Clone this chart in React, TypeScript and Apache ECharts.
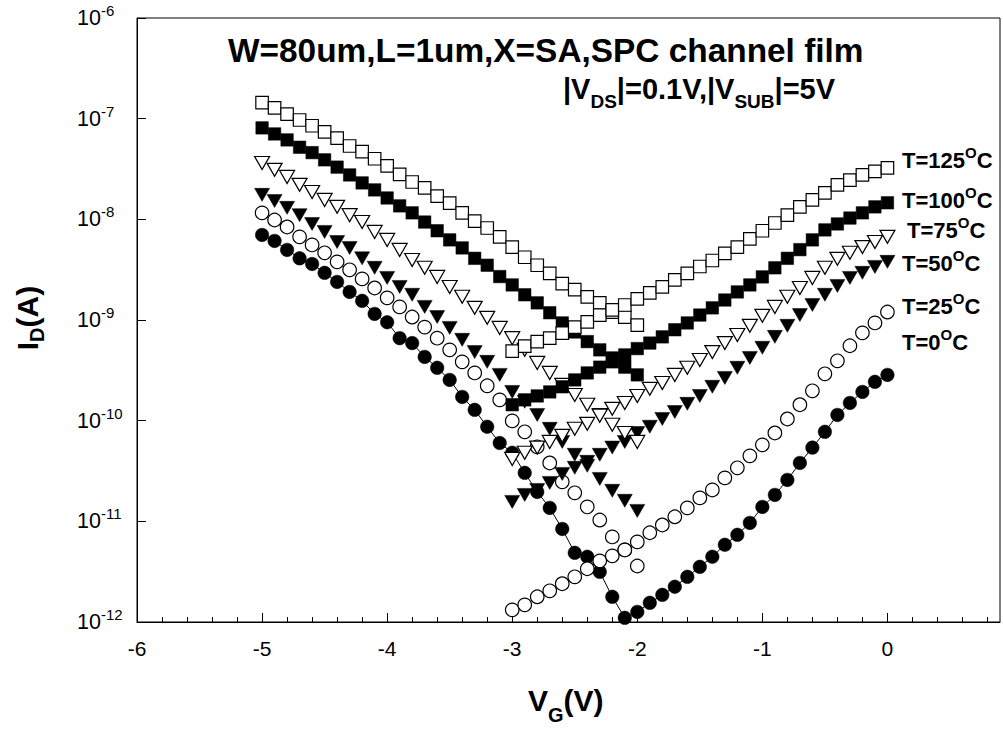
import React, { useEffect, useRef } from 'react';
import * as echarts from 'echarts';

// Gate voltage sweeps (V)
const VG_DOWN = [-5.0, -4.9, -4.8, -4.7, -4.6, -4.5, -4.4, -4.3, -4.2, -4.1, -4.0, -3.9, -3.8, -3.7, -3.6, -3.5, -3.4, -3.3, -3.2, -3.1, -3.0, -2.9, -2.8, -2.7, -2.6, -2.5, -2.4, -2.3, -2.2, -2.1, -2.0];
const VG_UP = [-3.0, -2.9, -2.8, -2.7, -2.6, -2.5, -2.4, -2.3, -2.2, -2.1, -2.0, -1.9, -1.8, -1.7, -1.6, -1.5, -1.4, -1.3, -1.2, -1.1, -1.0, -0.9, -0.8, -0.7, -0.6, -0.5, -0.4, -0.3, -0.2, -0.1, 0.0];
const VG_FULL = [-5.0, -4.9, -4.8, -4.7, -4.6, -4.5, -4.4, -4.3, -4.2, -4.1, -4.0, -3.9, -3.8, -3.7, -3.6, -3.5, -3.4, -3.3, -3.2, -3.1, -3.0, -2.9, -2.8, -2.7, -2.6, -2.5, -2.4, -2.3, -2.2, -2.1, -2.0, -1.9, -1.8, -1.7, -1.6, -1.5, -1.4, -1.3, -1.2, -1.1, -1.0, -0.9, -0.8, -0.7, -0.6, -0.5, -0.4, -0.3, -0.2, -0.1, 0.0];

// Drain current I_D (A)
const T125_DOWN = [1.44e-7, 1.28e-7, 1.11e-7, 9.7e-8, 8.5e-8, 7.4e-8, 6.4e-8, 5.35e-8, 4.7e-8, 4.0e-8, 3.4e-8, 2.8e-8, 2.35e-8, 2.05e-8, 1.7e-8, 1.45e-8, 1.16e-8, 9.6e-9, 8.2e-9, 6.7e-9, 5.3e-9, 4.2e-9, 3.5e-9, 2.9e-9, 2.3e-9, 2.0e-9, 1.7e-9, 1.48e-9, 1.2e-9, 1.07e-9, 8.9e-10];
const T125_UP = [4.9e-10, 5.5e-10, 6.1e-10, 6.6e-10, 7.4e-10, 8.5e-10, 9.6e-10, 1.12e-9, 1.26e-9, 1.41e-9, 1.62e-9, 1.86e-9, 2.13e-9, 2.5e-9, 2.9e-9, 3.4e-9, 3.9e-9, 4.6e-9, 5.3e-9, 6.4e-9, 7.7e-9, 9.2e-9, 1.1e-8, 1.33e-8, 1.56e-8, 1.83e-8, 2.2e-8, 2.45e-8, 2.76e-8, 3.0e-8, 3.24e-8];
const T100_DOWN = [8.1e-8, 7.05e-8, 6.15e-8, 5.2e-8, 4.6e-8, 3.9e-8, 3.3e-8, 2.76e-8, 2.3e-8, 1.96e-8, 1.63e-8, 1.36e-8, 1.16e-8, 9.4e-9, 7.7e-9, 6.25e-9, 5.2e-9, 4.1e-9, 3.5e-9, 2.7e-9, 2.23e-9, 1.78e-9, 1.48e-9, 1.18e-9, 9.35e-10, 7.6e-10, 6.1e-10, 5.05e-10, 4.2e-10, 3.4e-10, 2.85e-10];
const T100_UP = [1.44e-10, 1.61e-10, 1.76e-10, 1.93e-10, 2.17e-10, 2.54e-10, 2.98e-10, 3.4e-10, 3.84e-10, 4.5e-10, 5.2e-10, 5.9e-10, 6.8e-10, 8.0e-10, 9.35e-10, 1.12e-9, 1.32e-9, 1.58e-9, 1.9e-9, 2.23e-9, 2.68e-9, 3.3e-9, 4.1e-9, 5.0e-9, 6.25e-9, 7.85e-9, 9.0e-9, 1.03e-8, 1.16e-8, 1.33e-8, 1.46e-8];
const T75_DOWN = [3.63e-8, 3.1e-8, 2.64e-8, 2.2e-8, 1.87e-8, 1.56e-8, 1.33e-8, 1.1e-8, 9.4e-9, 7.5e-9, 6.25e-9, 4.97e-9, 3.95e-9, 3.3e-9, 2.68e-9, 2.13e-9, 1.7e-9, 1.32e-9, 1.05e-9, 8.35e-10, 6.6e-10, 5.05e-10, 3.75e-10, 2.98e-10, 2.27e-10, 1.8e-10, 1.44e-10, 1.14e-10, 9.1e-11, 7.55e-11, 6.15e-11];
const T75_UP = [4.17e-11, 4.8e-11, 5.4e-11, 6.15e-11, 7.07e-11, 8.3e-11, 9.3e-11, 1.12e-10, 1.31e-10, 1.5e-10, 1.76e-10, 2.07e-10, 2.37e-10, 2.85e-10, 3.35e-10, 4.0e-10, 4.8e-10, 5.9e-10, 7.1e-10, 8.75e-10, 1.1e-9, 1.35e-9, 1.7e-9, 2.08e-9, 2.62e-9, 3.3e-9, 4.05e-9, 4.65e-9, 5.3e-9, 5.95e-9, 6.7e-9];
const T50_DOWN = [1.75e-8, 1.52e-8, 1.3e-8, 1.1e-8, 9.0e-9, 7.5e-9, 5.95e-9, 5.2e-9, 4.1e-9, 3.3e-9, 2.62e-9, 2.13e-9, 1.78e-9, 1.35e-9, 1.07e-9, 8.35e-10, 6.35e-10, 4.8e-10, 3.84e-10, 2.85e-10, 1.93e-10, 1.54e-10, 1.14e-10, 8.3e-11, 6.15e-11, 4.58e-11, 3.56e-11, 2.64e-11, 2.01e-11, 1.6e-11, 1.27e-11];
const T50_UP = [1.56e-11, 1.83e-11, 2.05e-11, 2.41e-11, 2.96e-11, 3.4e-11, 3.9e-11, 4.58e-11, 5.4e-11, 6.15e-11, 7.55e-11, 8.7e-11, 1.04e-10, 1.22e-10, 1.47e-10, 1.76e-10, 2.17e-10, 2.66e-10, 3.35e-10, 4.2e-10, 5.3e-10, 6.8e-10, 8.75e-10, 1.12e-9, 1.41e-9, 1.78e-9, 2.18e-9, 2.62e-9, 2.94e-9, 3.37e-9, 3.78e-9];
const T25_DOWN = [1.16e-8, 9.85e-9, 8.4e-9, 6.7e-9, 5.57e-9, 4.65e-9, 3.78e-9, 3.15e-9, 2.56e-9, 2.08e-9, 1.66e-9, 1.35e-9, 1.07e-9, 8.5e-10, 6.6e-10, 5.05e-10, 3.84e-10, 2.98e-10, 2.22e-10, 1.61e-10, 9.95e-11, 7.75e-11, 5.5e-11, 3.8e-11, 2.47e-11, 1.92e-11, 1.39e-11, 1.03e-11, 7.0e-12, 5.2e-12, 3.6e-12];
const T25_UP = [1.32e-12, 1.48e-12, 1.78e-12, 2.04e-12, 2.4e-12, 2.81e-12, 3.38e-12, 4.05e-12, 4.54e-12, 5.2e-12, 6.25e-12, 7.7e-12, 9.2e-12, 1.11e-11, 1.36e-11, 1.71e-11, 2.05e-11, 2.7e-11, 3.4e-11, 4.47e-11, 5.75e-11, 7.55e-11, 1.04e-10, 1.44e-10, 1.98e-10, 2.92e-10, 3.93e-10, 5.55e-10, 7.45e-10, 9.35e-10, 1.2e-9];
const T0_FULL = [7.0e-9, 6.1e-9, 4.97e-9, 4.1e-9, 3.6e-9, 2.94e-9, 2.39e-9, 1.9e-9, 1.55e-9, 1.15e-9, 9.5e-10, 6.6e-10, 5.9e-10, 4.3e-10, 3.35e-10, 2.54e-10, 1.72e-10, 1.28e-10, 8.7e-11, 6.0e-11, 4.8e-11, 3.03e-11, 1.96e-11, 1.36e-11, 8.4e-12, 4.87e-12, 4.45e-12, 3.15e-12, 1.78e-12, 1.1e-12, 1.26e-12, 1.55e-12, 1.86e-12, 2.24e-12, 2.81e-12, 3.53e-12, 4.45e-12, 5.85e-12, 7.35e-12, 9.65e-12, 1.39e-11, 1.83e-11, 2.58e-11, 3.8e-11, 5.4e-11, 7.75e-11, 1.14e-10, 1.5e-10, 1.93e-10, 2.43e-10, 2.85e-10];

// Axis ticks
const X_MAJOR = [-6, -5, -4, -3, -2, -1, 0];
const X_MINOR = [-5.8, -5.6, -5.4, -5.2, -4.8, -4.6, -4.4, -4.2, -3.8, -3.6, -3.4, -3.2, -2.8, -2.6, -2.4, -2.2, -1.8, -1.6, -1.4, -1.2, -0.8, -0.6, -0.4, -0.2, 0.2, 0.4, 0.6, 0.8];

// Texts
const TITLE = 'W=80um,L=1um,X=SA,SPC channel film';
const TEMP_LABELS = ['125', '100', '75', '50', '25', '0'];

const FONT = 'Arial, "Liberation Sans", Helvetica, sans-serif';

function zip(xs: number[], ys: number[]) {
  return xs.map((x, i) => [x, ys[i]]);
}

export default function App() {
  const ref = useRef<HTMLDivElement>(null);

  useEffect(() => {
    if (!ref.current) return;
    const chart = echarts.init(ref.current, null, { renderer: 'svg', width: 1003, height: 731 });

    const open = { color: '#ffffff', borderColor: '#000000', borderWidth: 1.2, opacity: 1 };
    const filled = { color: '#000000', borderColor: '#000000', borderWidth: 0.5, opacity: 1 };

    const mk = (name: string, xs: number[], ys: number[], symbol: string, size: any, style: any, rotate = 0, z = 3) => ({
      name,
      type: 'scatter',
      data: zip(xs, ys),
      symbol,
      symbolSize: size,
      symbolRotate: rotate,
      itemStyle: style,
      clip: false,
      z,
      silent: true,
    });

    const tempPos = [
      { x: 902, y: 160.5 },
      { x: 902, y: 200 },
      { x: 907, y: 230.5 },
      { x: 902, y: 263.5 },
      { x: 902, y: 306.5 },
      { x: 902, y: 342 },
    ];

    const tempRich = {
      m: { fontSize: 22, fontWeight: 'bold', fontFamily: FONT, lineHeight: 31, fill: '#000' },
      s: { fontSize: 15, fontWeight: 'bold', fontFamily: FONT, verticalAlign: 'top', fill: '#000' },
    };

    const option: any = {
      animation: false,
      backgroundColor: '#ffffff',
      grid: {
        left: 137,
        right: 3,
        top: 18,
        bottom: 109,
        show: true,
        borderColor: '#000',
        borderWidth: 1,
        containLabel: false,
      },
      xAxis: [
        {
          type: 'value',
          min: -6,
          max: 0.9,
          interval: 1,
          position: 'bottom',
          axisLine: { show: true, onZero: false, lineStyle: { color: '#000', width: 1 } },
          axisTick: { show: true, inside: true, length: 9, customValues: X_MAJOR, lineStyle: { color: '#000', width: 1 } },
          axisLabel: {
            customValues: X_MAJOR,
            color: '#000',
            fontSize: 21,
            fontFamily: FONT,
            margin: 16,
            formatter: (v: number) => (Math.abs(v - Math.round(v)) < 1e-6 ? String(Math.round(v)) : ''),
          },
          splitLine: { show: false },
        },
        {
          type: 'value',
          min: -6,
          max: 0.9,
          interval: 0.2,
          position: 'bottom',
          axisLine: { show: false, onZero: false },
          axisTick: { show: true, inside: true, length: 5, customValues: X_MINOR, lineStyle: { color: '#000', width: 1 } },
          axisLabel: { show: false },
          splitLine: { show: false },
        },
      ],
      yAxis: {
        type: 'log',
        logBase: 10,
        min: 1e-12,
        max: 1e-6,
        position: 'left',
        axisLine: { show: true, onZero: false, lineStyle: { color: '#000', width: 1 } },
        axisTick: { show: true, inside: true, length: 9, lineStyle: { color: '#000', width: 1 } },
        minorTick: { show: false },
        splitLine: { show: false },
        axisLabel: {
          align: 'left',
          margin: 60,
          formatter: (v: number) => `{b|10}{s|${Math.round(Math.log10(v))}}`,
          rich: {
            b: { fontSize: 21.5, fontFamily: FONT, color: '#000', lineHeight: 30 },
            s: { fontSize: 15, fontFamily: FONT, color: '#000', verticalAlign: 'top' },
          },
        },
      },
      series: [
        {
          name: 'T=0',
          type: 'line',
          data: zip(VG_FULL, T0_FULL),
          symbol: 'circle',
          symbolSize: 13.5,
          showSymbol: true,
          itemStyle: filled,
          lineStyle: { color: '#000', width: 1 },
          clip: false,
          z: 3,
          silent: true,
        },
        mk('T=25 down', VG_DOWN, T25_DOWN, 'circle', 13.5, open),
        mk('T=25 up', VG_UP, T25_UP, 'circle', 13.5, open),
        mk('T=50 down', VG_DOWN, T50_DOWN, 'triangle', [15, 13], filled, 180),
        mk('T=50 up', VG_UP, T50_UP, 'triangle', [15, 13], filled, 180),
        mk('T=75 down', VG_DOWN, T75_DOWN, 'triangle', [15, 13], open, 180),
        mk('T=75 up', VG_UP, T75_UP, 'triangle', [15, 13], open, 180),
        mk('T=100 down', VG_DOWN, T100_DOWN, 'rect', 12.5, filled),
        mk('T=100 up', VG_UP, T100_UP, 'rect', 12.5, filled),
        mk('T=125 down', VG_DOWN, T125_DOWN, 'rect', 12.5, open),
        mk('T=125 up', VG_UP, T125_UP, 'rect', 12.5, open),
      ],
      graphic: [
        {
          type: 'text',
          x: 228,
          y: 50,
          silent: true,
          style: {
            text: TITLE,
            fontSize: 33.4,
            fontWeight: 'bold',
            fontFamily: FONT,
            fill: '#000',
            align: 'left',
            verticalAlign: 'middle',
          },
        },
        {
          type: 'text',
          x: 563,
          y: 89,
          silent: true,
          style: {
            text: '{m||V}{s|DS}{m||=0.1V,|V}{s|SUB}{m||=5V}',
            align: 'left',
            verticalAlign: 'middle',
            rich: {
              m: { fontSize: 29, fontWeight: 'bold', fontFamily: FONT, lineHeight: 43, fill: '#000' },
              s: { fontSize: 19, fontWeight: 'bold', fontFamily: FONT, verticalAlign: 'bottom', fill: '#000' },
            },
          },
        },
        ...TEMP_LABELS.map((t, i) => ({
          type: 'text',
          x: tempPos[i].x,
          y: tempPos[i].y,
          silent: true,
          style: {
            text: `{m|T=${t}}{s|O}{m|C}`,
            align: 'left',
            verticalAlign: 'middle',
            rich: tempRich,
          },
        })),
        {
          type: 'text',
          x: 528,
          y: 700,
          silent: true,
          style: {
            text: '{m|V}{s|G}{m|(V)}',
            align: 'left',
            verticalAlign: 'middle',
            rich: {
              m: { fontSize: 30, fontWeight: 'bold', fontFamily: FONT, lineHeight: 50, fill: '#000' },
              s: { fontSize: 20, fontWeight: 'bold', fontFamily: FONT, verticalAlign: 'bottom', fill: '#000' },
            },
          },
        },
        {
          type: 'text',
          x: 27,
          y: 318,
          rotation: Math.PI / 2,
          silent: true,
          style: {
            text: '{m|I}{s|D}{m|(A)}',
            align: 'center',
            verticalAlign: 'middle',
            rich: {
              m: { fontSize: 30, fontWeight: 'bold', fontFamily: FONT, lineHeight: 40, fill: '#000' },
              s: { fontSize: 20, fontWeight: 'bold', fontFamily: FONT, verticalAlign: 'bottom', fill: '#000' },
            },
          },
        },
      ],
    };

    chart.setOption(option);
    return () => chart.dispose();
  }, []);

  return (
    <div
      ref={ref}
      style={{ position: 'fixed', left: 0, top: 0, width: 1003, height: 731, background: '#ffffff' }}
    />
  );
}
